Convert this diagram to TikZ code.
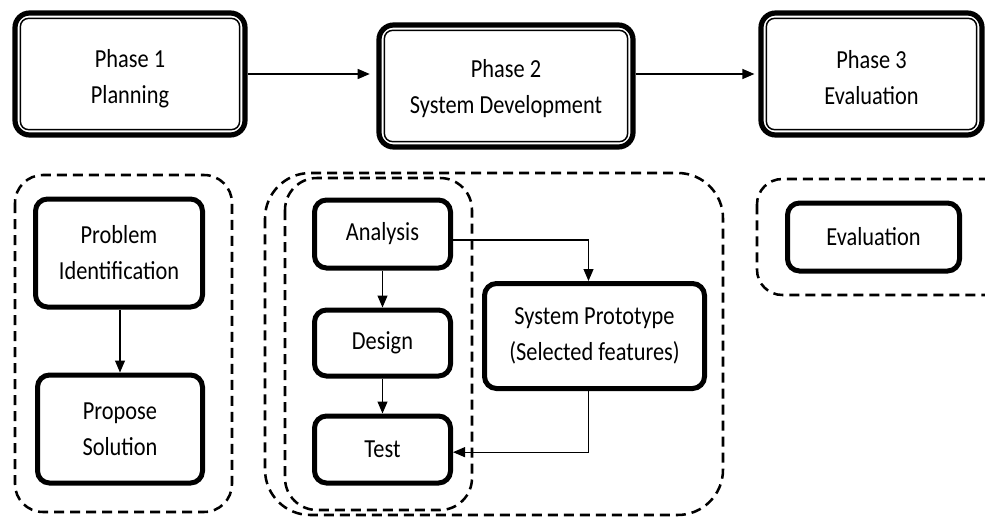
\documentclass[tikz,border=0pt]{standalone}
\usepackage{fontspec}
\setmainfont{Carlito}[FakeStretch=0.86]
\usetikzlibrary{arrows.meta,calc}
\tikzset{
  txt/.style={font=\fontsize{19.5pt}{27pt}\selectfont, align=center, text=black},
  phasebox/.style={draw, line width=3.9pt, rounded corners=11pt, inner sep=0pt},
  stepbox/.style={txt, draw, line width=3.75pt, rounded corners=9pt, inner sep=0pt},
  innerline/.style={line width=1.1pt, rounded corners=6pt},
  dashbox/.style={line width=1.9pt, dash pattern=on 7.5pt off 4.5pt},
  arr/.style={line width=1pt, -{Triangle[length=9pt,width=7.5pt]}},
  link/.style={line width=0.8pt, -{Triangle[length=9pt,width=7.5pt]}}
}
\begin{document}
\begin{tikzpicture}[x=0.75pt,y=-0.75pt]
\useasboundingbox (0,0) rectangle (985,517);
\clip (0,0) rectangle (985,517);
\fill[white] (0,0) rectangle (985,517);

% Phase boxes
\node[phasebox, minimum width=172.5pt, minimum height=91.5pt,
  label={[txt, yshift=-3.5pt]center:{Phase 1\\Planning}}] (p1) at (130,74) {};
\node[phasebox, minimum width=190.5pt, minimum height=91.5pt,
  label={[txt, yshift=-2pt]center:{Phase 2\\System Development}}] (p2) at (506,86) {};
\node[phasebox, minimum width=165.75pt, minimum height=91.5pt,
  label={[txt, yshift=-3pt]center:{Phase 3\\Evaluation}}] (p3) at (871.5,74) {};
\draw[innerline] ($(p1.north west)+(8,8)$) rectangle ($(p1.south east)+(-8,-8)$);
\draw[innerline] ($(p2.north west)+(8,8)$) rectangle ($(p2.south east)+(-8,-8)$);
\draw[innerline] ($(p3.north west)+(8,8)$) rectangle ($(p3.south east)+(-8,-8)$);
\draw[arr, shorten >=5pt] (p1.east) -- (p1.east -| p2.west);
\draw[arr, shorten >=3pt] (p3.west -| p2.east) -- (p3.west);

% Dashed groups
\draw[dashbox, rounded corners=21pt] (15,175) rectangle (232,512);
\draw[dashbox, rounded corners=34pt] (265,173) rectangle (723,515);
\draw[dashbox, rounded corners=24pt] (285,178) rectangle (472,510);
\draw[dashbox, rounded corners=19pt] (757,179) rectangle (1010,295);

% Phase 1 steps
\node[stepbox, minimum width=125.25pt, minimum height=81pt] (pi) at (119,253) {Problem\\Identification};
\node[stepbox, minimum width=123.75pt, minimum height=81pt] (ps) at (120,429) {Propose\\Solution};
\draw[link] (pi.south -| ps.north) -- (ps.north);

% Phase 2 steps
\node[stepbox, minimum width=102pt, minimum height=51pt] (ana) at (382.5,234) {Analysis};
\node[stepbox, minimum width=102pt, minimum height=49.5pt] (des) at (382.5,343) {Design};
\node[stepbox, minimum width=102pt, minimum height=50.25pt] (tst) at (382.5,449.5) {Test};
\node[stepbox, minimum width=165pt, minimum height=78.75pt] (sp) at (594.5,336) {System Prototype\\(Selected features)};
\draw[link] (ana.south) -- (des.north);
\draw[link] (des.south) -- (tst.north);
\draw[link] ([yshift=-4.5pt]ana.east) -| ([xshift=-4.5pt]sp.north);
\draw[link] ([xshift=-4.5pt]sp.south) |- ([yshift=-2pt]tst.east);

% Phase 3 step
\node[stepbox, minimum width=129pt, minimum height=51pt] (ev) at (873.5,237) {Evaluation};
\end{tikzpicture}
\end{document}
